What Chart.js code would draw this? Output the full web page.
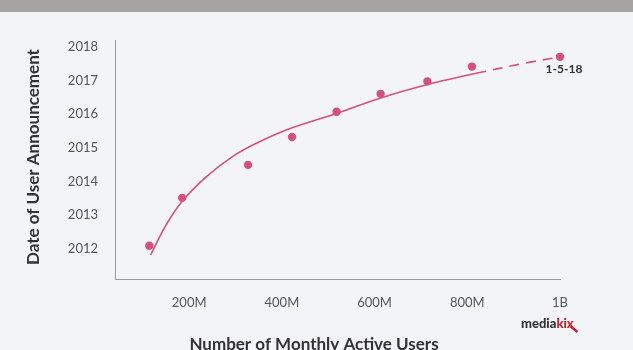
<!DOCTYPE html>
<html>
<head>
<meta charset="utf-8">
<script src="https://cdn.jsdelivr.net/npm/chart.js@4"></script>
<style>
  html, body { margin: 0; padding: 0; background: #f3f4f6; }
  #wrap { width: 633px; height: 350px; position: relative; }
</style>
</head>
<body>
<div id="wrap"><canvas id="userChart"></canvas></div>
<script>
// announced milestones (monthly active users in millions, date as decimal year)
const pointUsers = [114, 185, 327, 422, 518, 613, 714, 810, 1000];
const pointYears = [2012.09, 2013.51, 2014.49, 2015.32, 2016.07, 2016.60, 2016.97, 2017.41, 2017.70];

// trend line: solid part, then the dashed projection
const trendUsers = [117, 150, 185, 238, 295, 346, 422, 518, 613, 714, 819];
const trendYears = [2011.82, 2012.70, 2013.41, 2014.15, 2014.75, 2015.14, 2015.59, 2016.02, 2016.48, 2016.88, 2017.21];
const projUsers = [819, 920, 1000];
const projYears = [2017.21, 2017.50, 2017.70];

// axis ticks
const userTicks = [200, 400, 600, 800, 1000];
const userTickLabels = ["200M", "400M", "600M", "800M", "1B"];
const yearTicks = [2012, 2013, 2014, 2015, 2016, 2017, 2018];

const lastLabel = "1-5-18";
const pink = "#d4507f";

const toXY = (xs, ys) => xs.map((x, i) => ({ x: x, y: ys[i] }));

// background, top band, titles, point note and logo
const decorations = {
  id: "decorations",
  beforeDraw(chart) {
    const ctx = chart.ctx;
    ctx.save();
    ctx.fillStyle = "#f3f4f6";
    ctx.fillRect(0, 0, chart.width, chart.height);
    ctx.fillStyle = "#a5a4a2";
    ctx.fillRect(0, 0, chart.width, 12);
    ctx.restore();
  },
  afterDraw(chart) {
    const ctx = chart.ctx;
    ctx.save();
    ctx.fillStyle = "#333333";
    ctx.font = "bold 17px Lato";
    ctx.textAlign = "center";
    ctx.textBaseline = "middle";
    // y title
    ctx.save();
    ctx.translate(34, 157);
    ctx.rotate(-Math.PI / 2);
    ctx.fillText("Date of User Announcement", 0, 0);
    ctx.restore();
    // x title
    ctx.textBaseline = "alphabetic";
    ctx.fillText("Number of Monthly Active Users", 314, 350);

    // note under the last point
    const xs = chart.scales.x, ys = chart.scales.y;
    const n = pointUsers.length - 1;
    ctx.font = "bold 12px Lato";
    ctx.textBaseline = "middle";
    ctx.fillText(lastLabel, xs.getPixelForValue(pointUsers[n]) + 4, ys.getPixelForValue(pointYears[n]) + 12);

    // logo
    ctx.font = "900 13px Lato";
    ctx.textAlign = "left";
    ctx.fillStyle = "#333333";
    ctx.fillText("media", 521, 324);
    const w = ctx.measureText("media").width;
    ctx.fillStyle = "#c8202f";
    ctx.fillText("kix", 521 + w, 324);
    ctx.strokeStyle = "#c8202f";
    ctx.lineWidth = 2.5;
    ctx.beginPath();
    ctx.moveTo(521 + w + 14, 326);
    ctx.lineTo(521 + w + 21, 332);
    ctx.stroke();
    ctx.restore();
  }
};

new Chart(document.getElementById("userChart"), {
  type: "scatter",
  data: {
    datasets: [
      {
        label: "Trend",
        data: toXY(trendUsers, trendYears),
        showLine: true,
        borderColor: pink,
        borderWidth: 1.6,
        pointRadius: 0,
        tension: 0.4
      },
      {
        label: "Projection",
        data: toXY(projUsers, projYears),
        showLine: true,
        borderColor: pink,
        borderWidth: 1.6,
        borderDash: [10, 7],
        pointRadius: 0,
        tension: 0.4,
        clip: false
      },
      {
        label: "Announced",
        data: toXY(pointUsers, pointYears),
        showLine: false,
        backgroundColor: pink,
        borderColor: pink,
        pointRadius: 4.2,
        pointBorderWidth: 0,
        clip: false
      }
    ]
  },
  options: {
    responsive: true,
    maintainAspectRatio: false,
    animation: false,
    layout: { padding: { left: 0, right: 73, top: 40, bottom: 0 } },
    plugins: {
      legend: { display: false },
      tooltip: { enabled: false }
    },
    scales: {
      x: {
        type: "linear",
        min: 40,
        max: 1000,
        afterFit: (scale) => { scale.height = 71; },
        afterBuildTicks: (scale) => { scale.ticks = userTicks.map(v => ({ value: v })); },
        grid: { display: false, drawTicks: false },
        border: { display: true, color: "#9a9a9a", width: 1 },
        ticks: {
          padding: 16,
          color: "#555555",
          font: { family: "Lato", size: 13 },
          maxRotation: 0,
          callback: (v) => userTickLabels[userTicks.indexOf(v)]
        }
      },
      y: {
        type: "linear",
        min: 2011.1,
        max: 2018.2,
        afterFit: (scale) => { scale.width = 115; },
        afterBuildTicks: (scale) => { scale.ticks = yearTicks.map(v => ({ value: v })); },
        grid: { display: false, drawTicks: false },
        border: { display: true, color: "#9a9a9a", width: 1 },
        ticks: {
          padding: 17,
          color: "#555555",
          font: { family: "Lato", size: 13 },
          callback: (v) => String(v)
        }
      }
    }
  },
  plugins: [decorations]
});
</script>
</body>
</html>
